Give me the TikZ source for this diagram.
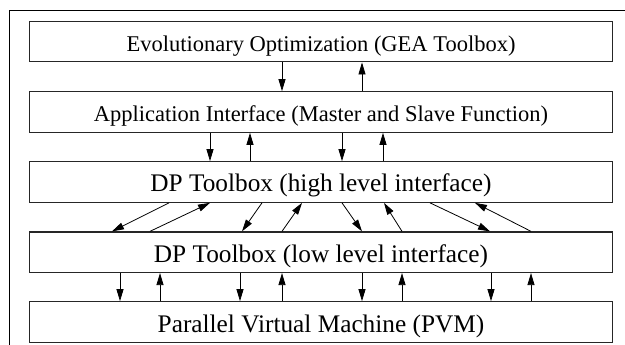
\documentclass[tikz,border=0pt]{standalone}
\usepackage{fontspec}
\setmainfont{Liberation Serif}
\usetikzlibrary{arrows.meta}
\begin{document}
\begin{tikzpicture}[x=1pt,y=-1pt,
  layer/.style={draw=black!85, line width=1.2pt, minimum width=582.5pt,
    minimum height=40.5pt, inner sep=0pt, text height=20pt, text depth=0pt},
  smalltext/.style={font=\fontsize{22.5}{26}\selectfont},
  largetext/.style={font=\fontsize{25.3}{30}\selectfont},
  link/.style={line width=0.8pt, -{Triangle[length=12pt,width=7pt]}},
  frameline/.style={line width=1pt}]
\useasboundingbox (0,0) rectangle (625,345);

% partial outer frame
\coordinate (fbot) at (9.5,345);
\coordinate (fcorner) at (9.5,11);
\coordinate (fright) at (625,11);
\draw[frameline] (fbot) -- (fcorner) -- (fright);

% the five layers
\node[layer, smalltext] (b1) at (321,41.6) {Evolutionary Optimization (GEA Toolbox)};
\node[layer, smalltext] (b2) at (321,112) {Application Interface (Master and Slave Function)};
\node[layer, largetext] (b3) at (321,182) {DP Toolbox (high level interface)};
\node[layer, largetext] (b4) at (321,252.2) {DP Toolbox (low level interface)};
\node[layer, largetext] (b5) at (321,322) {Parallel Virtual Machine (PVM)};

% optimization <-> application interface
\draw[link] (282,0 |- b1.south) -- (282,0 |- b2.north);
\draw[link] (362,0 |- b2.north) -- (362,0 |- b1.south);

% application interface <-> high level interface
\foreach \d/\u in {210/250, 342/383} {
  \draw[link] (\d,0 |- b2.south) -- (\d,0 |- b3.north);
  \draw[link] (\u,0 |- b3.north) -- (\u,0 |- b2.south);
}

% high level <-> low level interface (slanted)
\foreach \t/\b in {169/112, 262/242, 342/362, 430/490}
  \draw[link] (\t,0 |- b3.south) -- (\b,0 |- b4.north);
\foreach \b/\t in {150/210, 282/302, 402/384, 531/475}
  \draw[link] (\b,0 |- b4.north) -- (\t,0 |- b3.south);

% low level interface <-> PVM
\foreach \d/\u in {120/160, 240/282, 362/402, 491/531} {
  \draw[link] (\d,0 |- b4.south) -- (\d,0 |- b5.north);
  \draw[link] (\u,0 |- b5.north) -- (\u,0 |- b4.south);
}
\end{tikzpicture}
\end{document}
